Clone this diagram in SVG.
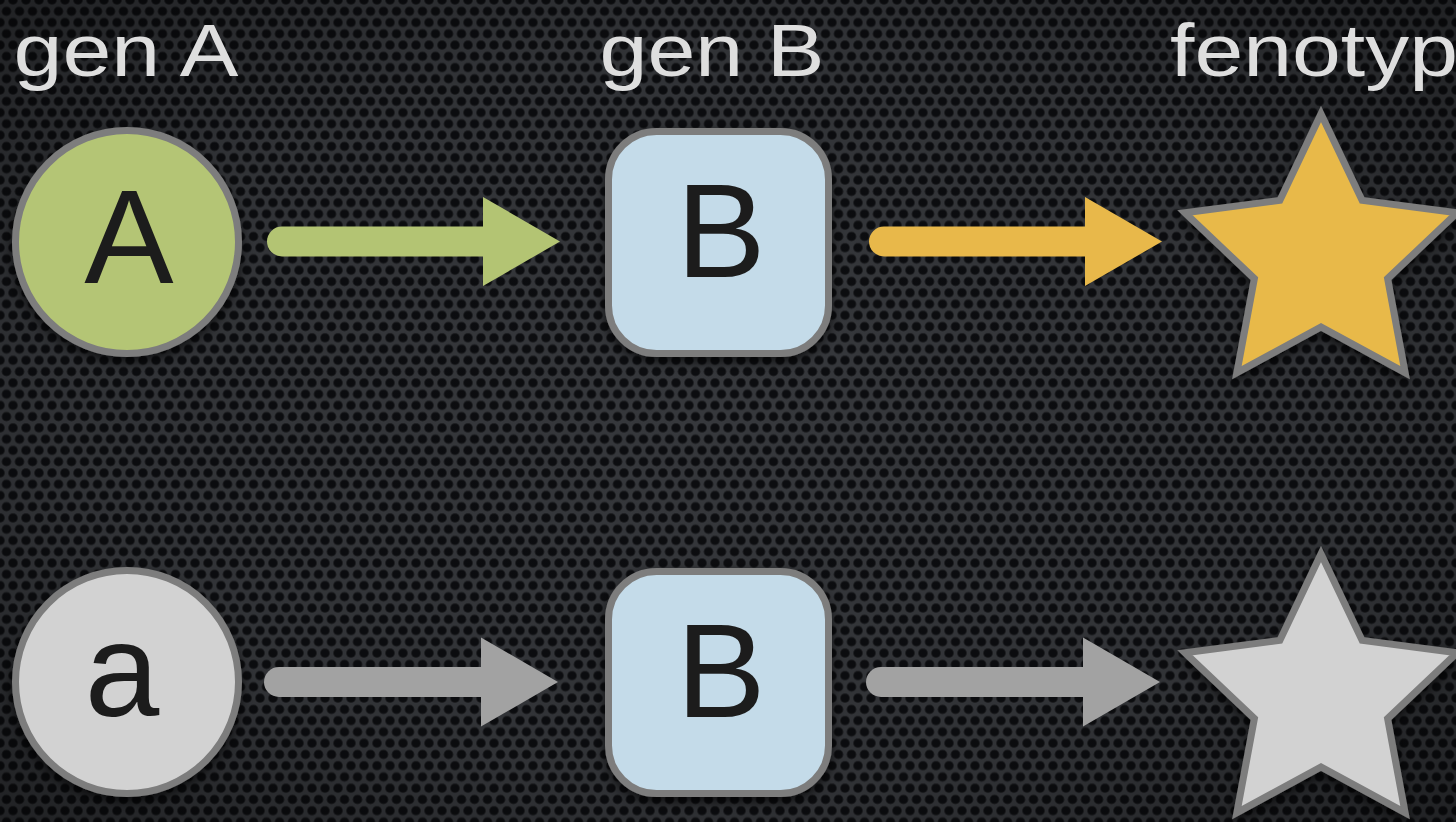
<svg xmlns="http://www.w3.org/2000/svg" width="1456" height="822" viewBox="0 0 1456 822">
  <defs>
    <pattern id="holes" patternUnits="userSpaceOnUse" width="13" height="22.52">
      <rect width="13" height="22.52" fill="#36383c"/>
      <circle cx="0" cy="0" r="5" fill="#1d1e21"/>
      <circle cx="13" cy="0" r="5" fill="#1d1e21"/>
      <circle cx="0" cy="22.52" r="5" fill="#1d1e21"/>
      <circle cx="13" cy="22.52" r="5" fill="#1d1e21"/>
      <circle cx="6.5" cy="11.26" r="5" fill="#1d1e21"/>
      <circle cx="0" cy="0" r="4" fill="#0c0d10"/>
      <circle cx="13" cy="0" r="4" fill="#0c0d10"/>
      <circle cx="0" cy="22.52" r="4" fill="#0c0d10"/>
      <circle cx="13" cy="22.52" r="4" fill="#0c0d10"/>
      <circle cx="6.5" cy="11.26" r="4" fill="#0c0d10"/>
    </pattern>
    <radialGradient id="vignette" cx="50%" cy="50%" r="75%">
      <stop offset="0" stop-color="#000" stop-opacity="0"/>
      <stop offset="0.6" stop-color="#000" stop-opacity="0.1"/>
      <stop offset="1" stop-color="#000" stop-opacity="0.45"/>
    </radialGradient>
    <filter id="shadow" x="-20%" y="-20%" width="140%" height="150%">
      <feDropShadow dx="0" dy="5" stdDeviation="6" flood-color="#000" flood-opacity="0.7"/>
    </filter>
    <marker id="headGreen" markerUnits="userSpaceOnUse" markerWidth="78" markerHeight="90" refX="0" refY="44.5" orient="auto" overflow="visible">
      <path d="M0,0 L77,44.5 L0,89 Z" fill="#b3c473"/>
    </marker>
    <marker id="headOrange" markerUnits="userSpaceOnUse" markerWidth="78" markerHeight="90" refX="0" refY="44.5" orient="auto" overflow="visible">
      <path d="M0,0 L77,44.5 L0,89 Z" fill="#e8b84a"/>
    </marker>
    <marker id="headGray" markerUnits="userSpaceOnUse" markerWidth="78" markerHeight="90" refX="0" refY="44.5" orient="auto" overflow="visible">
      <path d="M0,0 L77,44.5 L0,89 Z" fill="#a2a2a2"/>
    </marker>
    <style>
      .header { font-family: "Liberation Sans", Arial, sans-serif; font-size: 74px; fill: #dedede; }
      .label { font-family: "Liberation Sans", Arial, sans-serif; font-size: 134px; fill: #1c1c1c; text-anchor: middle; }
      .outline { stroke: #7d7d7d; stroke-width: 7; }
      .conn { stroke-width: 30; stroke-linecap: round; fill: none; }
    </style>
  </defs>

  <rect width="1456" height="822" fill="url(#holes)"/>
  <rect width="1456" height="822" fill="url(#vignette)"/>

  <g id="headers">
    <text class="header" x="13.5" y="76" textLength="225" lengthAdjust="spacingAndGlyphs">gen A</text>
    <text class="header" x="599.5" y="76" textLength="225" lengthAdjust="spacingAndGlyphs">gen B</text>
    <text class="header" x="1170" y="76" textLength="288" lengthAdjust="spacingAndGlyphs">fenotyp</text>
  </g>

  <g id="connectors">
    <line class="conn" x1="282" y1="241.5" x2="483" y2="241.5" stroke="#b3c473" marker-end="url(#headGreen)"/>
    <line class="conn" x1="884" y1="241.5" x2="1085" y2="241.5" stroke="#e8b84a" marker-end="url(#headOrange)"/>
    <line class="conn" x1="279" y1="682" x2="481" y2="682" stroke="#a2a2a2" marker-end="url(#headGray)"/>
    <line class="conn" x1="881" y1="682" x2="1083" y2="682" stroke="#a2a2a2" marker-end="url(#headGray)"/>
  </g>

  <g id="node-A" filter="url(#shadow)">
    <circle class="outline" cx="127" cy="242" r="111.5" fill="#b4c574"/>
    <text class="label" x="129" y="283">A</text>
  </g>

  <g id="node-B-top" filter="url(#shadow)">
    <rect class="outline" x="608.5" y="131.5" width="220" height="222" rx="48" fill="#c4dbe9"/>
    <text class="label" x="721" y="277">B</text>
  </g>

  <g id="node-star-top" filter="url(#shadow)">
    <polygon class="outline" fill="#e8b94a" points="1321,114 1362.1,200.4 1457,212.8 1387.6,278.6 1405.1,372.7 1321,327 1236.9,372.7 1254.4,278.6 1185,212.8 1279.9,200.4"/>
  </g>

  <g id="node-a" filter="url(#shadow)">
    <circle class="outline" cx="127" cy="682" r="111.5" fill="#d2d2d2"/>
    <text class="label" x="122" y="716">a</text>
  </g>

  <g id="node-B-bottom" filter="url(#shadow)">
    <rect class="outline" x="608.5" y="571.5" width="220" height="222" rx="48" fill="#c4dbe9"/>
    <text class="label" x="721" y="717">B</text>
  </g>

  <g id="node-star-bottom" filter="url(#shadow)">
    <polygon class="outline" fill="#d2d2d2" points="1321,554 1362.1,640.4 1457,652.8 1387.6,718.6 1405.1,812.7 1321,767 1236.9,812.7 1254.4,718.6 1185,652.8 1279.9,640.4"/>
  </g>
</svg>
